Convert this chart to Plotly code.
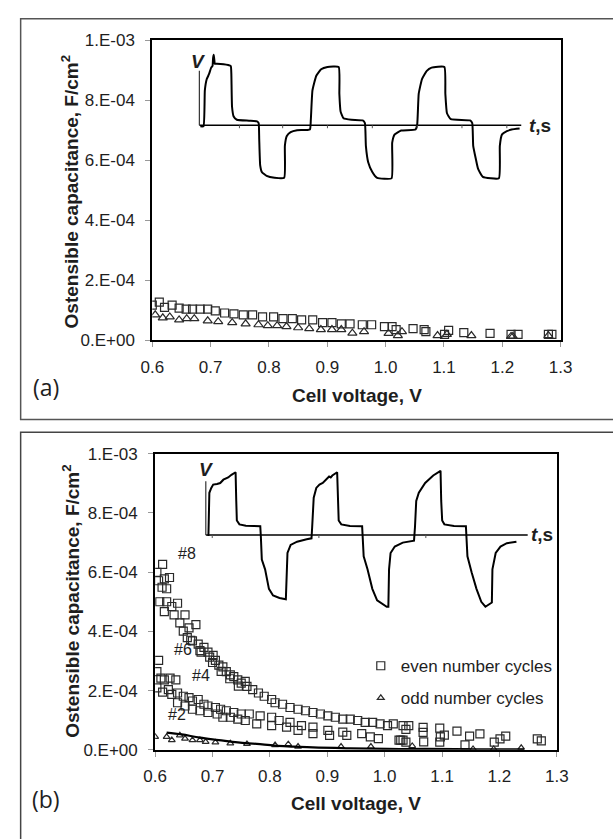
import plotly.graph_objects as go

W, H = 613, 839


def px(x):
    return x / W


def py(y):
    return 1 - y / H


# ---------------- Panel (a) data ----------------
a_even_v = [0.600, 0.612, 0.621, 0.634, 0.646, 0.658, 0.669, 0.682, 0.695, 0.708, 0.724, 0.740,
            0.756, 0.772, 0.789, 0.808, 0.824, 0.840, 0.856, 0.875, 0.892, 0.908, 0.924, 0.939,
            0.960, 0.976, 0.998, 1.011, 1.018, 1.047, 1.066, 1.069, 1.108, 1.101, 1.134, 1.179,
            1.215, 1.227, 1.279, 1.285]
a_even_c = [1.17e-4, 1.27e-4, 1.10e-4, 1.17e-4, 1.07e-4, 1.04e-4, 1.04e-4, 1.04e-4, 1.04e-4, 9.8e-5,
            9.1e-5, 8.8e-5, 8.5e-5, 8.5e-5, 7.8e-5, 7.8e-5, 7.2e-5, 7.2e-5, 6.8e-5, 6.8e-5,
            5.9e-5, 5.9e-5, 5.5e-5, 5.5e-5, 5.2e-5, 5.2e-5, 4.6e-5, 4.6e-5, 3.6e-5, 3.9e-5,
            3.6e-5, 2.9e-5, 3.3e-5, 2.0e-5, 2.6e-5, 2.3e-5, 2.0e-5, 2.0e-5, 2.0e-5, 2.0e-5]
a_odd_v = [0.605, 0.618, 0.630, 0.646, 0.659, 0.672, 0.695, 0.713, 0.737, 0.760, 0.782, 0.798,
           0.814, 0.830, 0.850, 0.869, 0.889, 0.908, 0.924, 0.943, 0.963, 1.005, 1.021, 1.028,
           1.089, 1.105, 1.147, 1.215, 1.218, 1.279]
a_odd_c = [8.5e-5, 7.5e-5, 7.8e-5, 6.8e-5, 7.2e-5, 7.2e-5, 6.5e-5, 6.2e-5, 5.9e-5, 5.5e-5, 5.2e-5,
           4.9e-5, 4.9e-5, 4.6e-5, 4.2e-5, 3.9e-5, 3.6e-5, 3.6e-5, 3.6e-5, 2.4e-5, 2.9e-5, 2.3e-5,
           1.6e-5, 2.9e-5, 1.6e-5, 2.0e-5, 1.6e-5, 1.3e-5, 1.3e-5, 1.6e-5]

# ---------------- Panel (b) data ----------------
b_even_v = [
    # cycles #8 / #6
    0.603, 0.613, 0.606, 0.616, 0.625, 0.612, 0.620, 0.608, 0.620, 0.616, 0.629, 0.639, 0.633,
    0.643, 0.652, 0.649, 0.659, 0.656, 0.671, 0.665, 0.675, 0.678, 0.685, 0.692, 0.695, 0.701,
    0.705, 0.711, 0.718, 0.724, 0.731, 0.737, 0.744, 0.750, 0.757, 0.760, 0.770, 0.780, 0.790,
    0.803, 0.809, 0.822, 0.835, 0.849, 0.862, 0.875, 0.888, 0.901, 0.914, 0.927, 0.940, 0.953,
    0.966, 0.979, 0.992, 1.005, 1.015,
    0.662, 0.680, 0.700, 0.715, 0.730, 0.745,
    # cycles #4
    0.603, 0.606, 0.610, 0.616, 0.626, 0.636, 0.603, 0.613, 0.623, 0.629, 0.639, 0.649, 0.659,
    0.665, 0.675, 0.685, 0.692, 0.705, 0.714, 0.724, 0.737, 0.750, 0.764, 0.783, 0.803, 0.816,
    0.835, 0.855, 0.875, 0.901, 0.927, 0.960, 0.989, 1.032, 1.068, 1.097,
    # cycles #2
    0.639, 0.652, 0.665, 0.678, 0.692, 0.708, 0.718, 0.731, 0.744, 0.757, 0.777, 0.803, 0.829,
    0.849, 0.875, 0.904, 0.934, 0.975, 1.028,
    # tail
    1.032, 1.042, 1.037, 1.025, 1.037, 1.067, 1.067, 1.096, 1.104, 1.096, 1.126, 1.148, 1.166,
    1.140, 1.191, 1.201, 1.211, 1.266, 1.273]
b_even_c = [
    5.99e-4, 6.26e-4, 5.71e-4, 5.77e-4, 5.82e-4, 5.49e-4, 5.44e-4, 5.00e-4, 5.00e-4, 4.67e-4,
    4.84e-4, 4.95e-4, 4.56e-4, 4.29e-4, 4.56e-4, 4.01e-4, 4.12e-4, 3.79e-4, 4.23e-4, 3.68e-4,
    3.57e-4, 3.35e-4, 3.46e-4, 3.30e-4, 3.13e-4, 3.19e-4, 3.02e-4, 2.86e-4, 2.80e-4, 2.64e-4,
    2.53e-4, 2.47e-4, 2.36e-4, 2.25e-4, 2.31e-4, 2.14e-4, 2.03e-4, 1.92e-4, 1.81e-4, 1.70e-4,
    1.59e-4, 1.54e-4, 1.43e-4, 1.37e-4, 1.32e-4, 1.26e-4, 1.21e-4, 1.15e-4, 1.10e-4, 1.04e-4,
    1.04e-4, 0.99e-4, 0.93e-4, 0.93e-4, 0.88e-4, 0.82e-4, 0.88e-4,
    3.70e-4, 3.30e-4, 2.95e-4, 2.65e-4, 2.40e-4, 2.15e-4,
    2.64e-4, 3.02e-4, 2.42e-4, 2.36e-4, 2.42e-4, 2.36e-4, 2.09e-4, 1.95e-4, 2.03e-4, 1.87e-4,
    1.92e-4, 1.81e-4, 1.76e-4, 1.65e-4, 1.70e-4, 1.54e-4, 1.48e-4, 1.43e-4, 1.37e-4, 1.32e-4,
    1.26e-4, 1.21e-4, 1.21e-4, 1.15e-4, 1.10e-4, 0.99e-4, 0.93e-4, 0.82e-4, 0.77e-4, 0.66e-4,
    0.60e-4, 0.55e-4, 0.38e-4, 0.33e-4, 0.27e-4, 0.44e-4,
    1.59e-4, 1.48e-4, 1.37e-4, 1.32e-4, 1.26e-4, 1.21e-4, 1.10e-4, 1.10e-4, 1.04e-4, 0.99e-4,
    0.88e-4, 0.82e-4, 0.77e-4, 0.66e-4, 0.55e-4, 0.49e-4, 0.49e-4, 0.44e-4, 0.33e-4,
    0.82e-4, 0.82e-4, 0.69e-4, 0.33e-4, 0.26e-4, 0.76e-4, 0.59e-4, 0.73e-4, 0.50e-4, 0.26e-4,
    0.63e-4, 0.46e-4, 0.54e-4, 0.17e-4, 0.26e-4, 0.37e-4, 0.46e-4, 0.37e-4, 0.30e-4]
b_odd_v = [0.600, 0.620, 0.629, 0.643, 0.652, 0.665, 0.678, 0.688, 0.705, 0.731, 0.760, 0.809,
           0.832, 0.849, 0.924, 0.976, 1.048, 1.154, 1.190, 1.238]
b_odd_c = [0.44e-4, 0.44e-4, 0.33e-4, 0.49e-4, 0.38e-4, 0.33e-4, 0.33e-4, 0.27e-4, 0.25e-4,
           0.22e-4, 0.20e-4, 0.16e-4, 0.19e-4, 0.11e-4, 0.11e-4, 0.11e-4, 0.13e-4, 0.03e-4,
           0.03e-4, 0.07e-4]
b_fit_v = [0.620, 0.646, 0.678, 0.711, 0.744, 0.777, 0.809, 0.842, 0.875, 0.940, 1.005, 1.070,
           1.162, 1.243]
b_fit_c = [0.58e-4, 0.52e-4, 0.41e-4, 0.33e-4, 0.25e-4, 0.20e-4, 0.14e-4, 0.11e-4, 0.08e-4,
           0.05e-4, 0.03e-4, 0.03e-4, 0.02e-4, 0.02e-4]

b_labels = ["#8", "#6", "#4", "#2"]
b_label_v = [0.655, 0.648, 0.680, 0.638]
b_label_c = [6.63e-4, 3.40e-4, 2.50e-4, 1.20e-4]

# ---------------- Inset waveforms (arbitrary units) ----------------
ins_a_t = [1.0, 4.3, 5.7, 7.7, 10.0, 12.3, 13.7, 14.3, 15.0, 15.7, 16.0, 18.3, 30.0, 32.7, 33.3,
           34.0, 35.7, 39.0, 51.7, 60.0, 61.7, 62.3, 63.3, 65.0, 70.0, 78.3, 88.3, 89.0, 91.0,
           95.0, 101.7, 115.0, 116.0, 117.7, 121.7, 126.7, 133.3, 145.0, 145.7, 147.0, 150.0,
           158.3, 170.0, 172.3, 173.3, 175.7, 180.0, 185.0, 200.0, 200.7, 203.3, 210.0, 225.0,
           226.7, 228.3, 231.7, 236.7, 241.7, 255.0, 256.0, 257.7, 261.7, 281.7, 284.0, 285.0,
           287.7, 290.0, 295.0, 311.7, 312.7, 315.0, 320.0, 325.0, 333.3]
ins_a_v = [-1.0, -1.0, 35.7, 47.3, 52.3, 59.0, 60.7, 69.0, 72.3, 65.7, 63.0, 63.0, 61.7, 60.7,
           52.3, 19.0, 9.0, 5.7, 4.7, 4.0, 2.3, -14.3, -41.0, -47.7, -51.7, -53.7, -53.7, -21.0,
           -11.0, -7.0, -5.0, -4.3, 5.7, 35.7, 50.7, 57.3, 59.7, 59.7, 32.3, 14.0, 7.3, 5.7,
           5.0, 2.3, -21.0, -37.7, -47.7, -53.7, -54.3, -17.7, -9.3, -5.3, -4.3, 0.7, 32.3,
           47.3, 55.7, 59.0, 59.7, 32.3, 12.3, 6.3, 5.0, 2.3, -21.0, -34.3, -44.3, -52.7, -54.3,
           -21.0, -9.3, -6.0, -4.3, -3.3]
ins_a_ticks = [41.7, 86.7, 133.3, 180.0, 226.7, 273.3, 320.0]

ins_b_t = [2.7, 3.7, 5.7, 7.7, 11.7, 15.0, 18.3, 23.3, 26.7, 30.0, 31.0, 31.7, 32.3, 35.0, 41.7,
           50.0, 56.7, 57.3, 58.3, 61.7, 65.7, 70.0, 76.7, 83.3, 84.0, 85.0, 88.3, 95.0, 105.0,
           110.0, 110.7, 112.3, 115.0, 118.3, 121.7, 125.0, 128.3, 130.0, 131.7, 136.7, 137.3,
           138.3, 141.0, 150.0, 162.7, 163.3, 164.3, 168.3, 173.3, 178.3, 188.3, 190.0, 190.7,
           192.3, 196.7, 205.0, 216.7, 217.7, 219.0, 221.7, 228.3, 236.7, 243.3, 244.3, 245.0,
           246.0, 248.3, 258.3, 270.7, 271.0, 272.3, 276.7, 281.7, 286.7, 291.0, 297.7, 298.3,
           301.7, 306.7, 313.3, 323.3]
ins_b_v = [-1.0, 43.3, 48.3, 51.7, 52.3, 53.3, 56.7, 59.0, 61.7, 64.3, 64.3, 35.0, 15.0, 11.0,
           9.7, 9.3, 9.0, -1.7, -25.0, -35.0, -55.0, -61.7, -64.3, -65.7, -35.0, -18.3, -10.0,
           -6.7, -4.3, -3.3, 8.3, 38.3, 48.3, 51.7, 53.3, 56.7, 60.0, 59.0, 61.0, 64.3, 35.0,
           15.0, 11.0, 9.3, 9.0, -1.7, -21.7, -35.0, -55.0, -66.7, -73.3, -73.3, -35.0, -18.3,
           -11.7, -7.7, -5.7, 8.3, 35.0, 43.3, 53.3, 61.0, 65.7, 65.7, 35.0, 15.0, 11.0, 9.3,
           9.0, -1.7, -21.7, -38.3, -55.0, -68.3, -73.3, -69.0, -35.0, -18.3, -11.7, -8.3, -6.7]
ins_b_ticks = [6.7, 117.7, 229.0]

y_tickvals = [0, 2e-4, 4e-4, 6e-4, 8e-4, 1e-3]
y_ticktext = ["0.E+00", "2.E-04", "4.E-04", "6.E-04", "8.E-04", "1.E-03"]

FONT = "Liberation Sans, Arial, sans-serif"
MCOL = "#2a2a2a"
TCOL = "#1e1e1e"

fig = go.Figure()

# panel (a) scatter
fig.add_trace(go.Scatter(x=a_even_v, y=a_even_c, mode="markers", xaxis="x", yaxis="y",
                         marker=dict(symbol="square-open", size=8, color=MCOL, line=dict(width=1.2)),
                         showlegend=False))
fig.add_trace(go.Scatter(x=a_odd_v, y=a_odd_c, mode="markers", xaxis="x", yaxis="y",
                         marker=dict(symbol="triangle-up-open", size=8, color=MCOL, line=dict(width=1.2)),
                         showlegend=False))
# panel (b) scatter
fig.add_trace(go.Scatter(x=b_even_v, y=b_even_c, mode="markers", xaxis="x2", yaxis="y2",
                         name="even number cycles", legendgroup="even",
                         marker=dict(symbol="square-open", size=8, color=MCOL, line=dict(width=1.2))))
fig.add_trace(go.Scatter(x=b_odd_v, y=b_odd_c, mode="markers", xaxis="x2", yaxis="y2",
                         name="odd number cycles", legendgroup="odd",
                         marker=dict(symbol="triangle-up-open", size=6, color=MCOL, line=dict(width=1.2))))
fig.add_trace(go.Scatter(x=b_fit_v, y=b_fit_c, mode="lines", xaxis="x2", yaxis="y2",
                         line=dict(color="black", width=2.2, shape="spline"), showlegend=False))

# inset waveforms
fig.add_trace(go.Scatter(x=ins_a_t, y=ins_a_v, mode="lines", xaxis="x3", yaxis="y3",
                         line=dict(color="black", width=2, shape="spline", smoothing=0.4),
                         showlegend=False))
fig.add_trace(go.Scatter(x=ins_b_t, y=ins_b_v, mode="lines", xaxis="x4", yaxis="y4",
                         line=dict(color="black", width=2), showlegend=False))

axis_common = dict(showgrid=False, zeroline=False, showline=True, mirror=True,
                   linecolor="black", linewidth=2, ticks="outside", ticklen=5,
                   tickcolor="#999999", tickfont=dict(family=FONT, size=17, color=TCOL))

fig.update_layout(
    width=W, height=H, autosize=False,
    margin=dict(l=0, r=0, t=0, b=0),
    paper_bgcolor="white", plot_bgcolor="rgba(0,0,0,0)",
    font=dict(family=FONT, size=16, color=TCOL),
    xaxis=dict(domain=[px(146), px(571)], anchor="y", range=[0.6, 1.3], dtick=0.1,
               tickformat=".1f", ticklabelstandoff=5, **axis_common),
    yaxis=dict(domain=[py(339), py(32)], anchor="x", range=[0, 1e-3], tickvals=y_tickvals,
               ticktext=y_ticktext, ticklabelstandoff=7, **axis_common),
    xaxis2=dict(domain=[px(149), px(567)], anchor="y2", range=[0.6, 1.3], dtick=0.1,
                tickformat=".1f", ticklabelstandoff=5, **axis_common),
    yaxis2=dict(domain=[py(758), py(455)], anchor="x2", range=[0, 1e-3], tickvals=y_tickvals,
                ticktext=y_ticktext, ticklabelstandoff=7, **axis_common),
    xaxis3=dict(domain=[px(185), px(580)], anchor="y3", range=[-10, 385], visible=False),
    yaxis3=dict(domain=[py(185), py(40)], anchor="x3", range=[-66, 79], visible=False),
    xaxis4=dict(domain=[px(190), px(585)], anchor="y4", range=[-11.7, 383.3], visible=False),
    yaxis4=dict(domain=[py(625), py(460)], anchor="x4", range=[-86.7, 78.3], visible=False),
    legend=dict(x=px(363), y=py(654), xanchor="left", yanchor="top",
                bgcolor="rgba(0,0,0,0)", font=dict(family=FONT, size=17, color=TCOL),
                tracegroupgap=7, itemwidth=30),
)

shapes = []
# outer panel boxes
shapes.append(dict(type="rect", xref="paper", yref="paper", x0=px(9), x1=px(640),
                   y0=py(420), y1=py(10), line=dict(color="#555555", width=1.5)))
shapes.append(dict(type="rect", xref="paper", yref="paper", x0=px(9), x1=px(640),
                   y0=py(870), y1=py(433), line=dict(color="#444444", width=1.5)))

# inset axes
for xr, yr, t_end, v_top, ticks in [("x3", "y3", 335, 55.7, ins_a_ticks),
                                     ("x4", "y4", 335, 55.0, ins_b_ticks)]:
    shapes.append(dict(type="line", xref=xr, yref=yr, x0=0, x1=t_end, y0=0, y1=0,
                       line=dict(color="black", width=1.5)))
    shapes.append(dict(type="line", xref=xr, yref=yr, x0=0, x1=0, y0=0, y1=v_top,
                       line=dict(color="#333333", width=1.2)))
    for tk in ticks:
        shapes.append(dict(type="line", xref=xr, yref=yr, x0=tk, x1=tk, y0=0, y1=-3,
                           line=dict(color="#555555", width=1)))
fig.update_layout(shapes=shapes)

ann = []
# axis titles
for xc, yc in [(359, 395), (358, 813)]:
    ann.append(dict(xref="paper", yref="paper", x=px(xc), y=py(yc), text="<b>Cell voltage, V</b>",
                    showarrow=False, font=dict(family=FONT, size=19, color=TCOL),
                    xanchor="center", yanchor="middle"))
for xc, yc in [(60, 187), (62, 606)]:
    ann.append(dict(xref="paper", yref="paper", x=px(xc), y=py(yc),
                    text="<b>Ostensible capacitance, F/cm<sup>2</sup></b>", textangle=-90,
                    showarrow=False, font=dict(family=FONT, size=19, color=TCOL),
                    xanchor="center", yanchor="middle"))
# panel labels
for lbl, xc, yc in [("(a)", 35, 387), ("(b)", 35, 808)]:
    ann.append(dict(xref="paper", yref="paper", x=px(xc), y=py(yc), text=lbl, showarrow=False,
                    font=dict(family="Open Sans, sans-serif", size=23, color=TCOL),
                    xanchor="center", yanchor="middle"))
# inset labels
ann.append(dict(xref="x3", yref="y3", x=-1.7, y=65.7, text="<b><i>V</i></b>", showarrow=False,
                font=dict(family=FONT, size=19, color=TCOL)))
ann.append(dict(xref="x3", yref="y3", x=355, y=0, text="<b><i>t</i>,s</b>", showarrow=False,
                font=dict(family=FONT, size=19, color=TCOL)))
ann.append(dict(xref="x4", yref="y4", x=0, y=66.7, text="<b><i>V</i></b>", showarrow=False,
                font=dict(family=FONT, size=19, color=TCOL)))
ann.append(dict(xref="x4", yref="y4", x=350, y=1, text="<b><i>t</i>,s</b>", showarrow=False,
                font=dict(family=FONT, size=19, color=TCOL)))
# cycle labels
for t, xv, yv in zip(b_labels, b_label_v, b_label_c):
    ann.append(dict(xref="x2", yref="y2", x=xv, y=yv, text=t, showarrow=False,
                    font=dict(family=FONT, size=16, color=TCOL)))
fig.update_layout(annotations=ann)

fig.write_html("out.html")
